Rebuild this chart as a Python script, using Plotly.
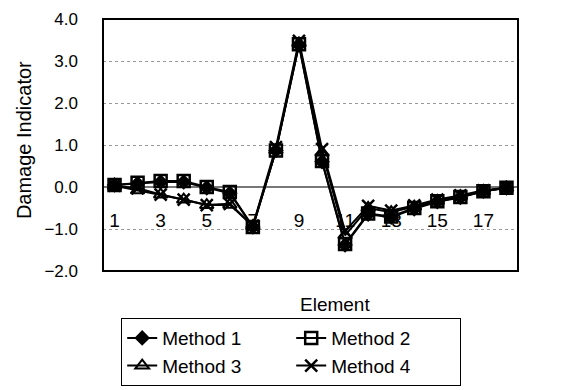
import plotly.graph_objects as go

elements = list(range(1, 19))
method1 = [0.05, 0.08, 0.12, 0.12, -0.02, -0.15, -0.95, 0.87, 3.38, 0.60, -1.38, -0.65, -0.72, -0.52, -0.35, -0.25, -0.10, -0.02]
method2 = [0.05, 0.10, 0.14, 0.14, 0.00, -0.12, -0.95, 0.87, 3.40, 0.62, -1.36, -0.63, -0.70, -0.50, -0.34, -0.24, -0.10, -0.02]
method3 = [0.03, -0.08, -0.18, -0.30, -0.43, -0.42, -0.93, 0.88, 3.42, 0.82, -1.15, -0.50, -0.60, -0.47, -0.33, -0.22, -0.10, -0.02]
method4 = [0.03, -0.03, -0.18, -0.30, -0.43, -0.40, -0.92, 0.95, 3.48, 0.90, -1.05, -0.45, -0.56, -0.44, -0.30, -0.20, -0.08, -0.02]
x_tick_vals = [1, 3, 5, 7, 9, 11, 13, 15, 17]
y_tick_vals = [-2, -1, 0, 1, 2, 3, 4]
y_tick_text = ["\u22122.0", "\u22121.0", "0.0", "1.0", "2.0", "3.0", "4.0"]

series = [
    ("Method 1", method1, dict(symbol="diamond", size=12, color="black")),
    ("Method 2", method2, dict(symbol="square-open", size=12, color="black", line=dict(width=2.5, color="black"))),
    ("Method 3", method3, dict(symbol="triangle-up-open", size=12, color="black", line=dict(width=2, color="black"))),
    ("Method 4", method4, dict(symbol="x-thin-open", size=12, color="black", line=dict(width=2.5, color="black"))),
]

fig = go.Figure()
for name, vals, marker in series:
    fig.add_trace(go.Scatter(x=elements, y=vals, name=name, mode="lines+markers",
                             line=dict(color="black", width=2), marker=marker))

font = "Liberation Sans, Arial, sans-serif"
fig.update_layout(
    width=566, height=390,
    margin=dict(l=95, r=56, t=11, b=127, autoexpand=False),
    paper_bgcolor="white", plot_bgcolor="white",
    font=dict(family=font, color="black", size=18),
    showlegend=True,
    legend=dict(orientation="h", xref="container", yref="container",
                x=0.2, y=0.205, xanchor="left", yanchor="top",
                entrywidth=124, entrywidthmode="pixels",
                bordercolor="black", borderwidth=1,
                font=dict(size=19, family=font)),
    xaxis=dict(range=[0.5, 18.5], tickvals=x_tick_vals, ticktext=[str(v) for v in x_tick_vals],
               anchor="free", position=0.255, showline=False, showgrid=False, zeroline=False,
               ticks="", tickfont=dict(size=19), layer="below traces"),
    yaxis=dict(range=[-2, 4], tickvals=y_tick_vals, ticktext=y_tick_text,
               showgrid=True, gridcolor="#999999", griddash="dot", gridwidth=1,
               zeroline=True, zerolinecolor="#777777", zerolinewidth=1.5,
               ticks="", tickfont=dict(size=17), ticklabelstandoff=24, showline=False,
               ticklabeloverflow="allow"),
    annotations=[
        dict(text="Damage Indicator", x=-0.19, y=0.52, xref="paper", yref="paper",
             xanchor="center", yanchor="middle",
             textangle=-90, showarrow=False, font=dict(size=20)),
        dict(text="Element", x=0.56, y=-0.134, xref="paper", yref="paper",
             xanchor="center", yanchor="middle",
             showarrow=False, font=dict(size=19)),
    ],
    shapes=[dict(type="rect", xref="paper", yref="paper", x0=0, x1=1, y0=0, y1=1,
                 line=dict(color="black", width=2))],
)

fig.write_html("out.html")
